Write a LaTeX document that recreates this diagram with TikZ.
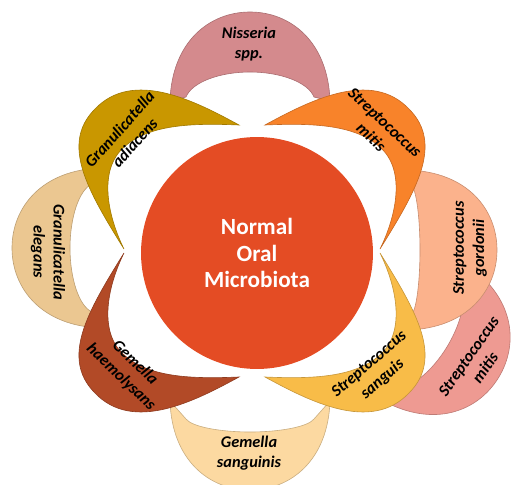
\documentclass[tikz,border=0pt]{standalone}
\usepackage{fontspec}
\setmainfont{Carlito}
\definecolor{kern}{HTML}{E44C24}
\definecolor{nissc}{HTML}{D48A8D}
\definecolor{goldc}{HTML}{C99700}
\definecolor{orngc}{HTML}{F8832A}
\definecolor{elegc}{HTML}{EBC791}
\definecolor{gordc}{HTML}{FBB28C}
\definecolor{mitic}{HTML}{EE9A92}
\definecolor{brwnc}{HTML}{B24A27}
\definecolor{yelwc}{HTML}{F8BC48}
\definecolor{sangc}{HTML}{FCD9A1}
\tikzset{
  leaf/.style={fill=#1,draw=#1!80!black,line width=0.35pt},
  lbl/.style={font=\fontsize{9.3}{11.5}\selectfont\bfseries\itshape,align=center,inner sep=0pt},
  core/.style={circle,fill=kern,minimum size=4.64cm,inner sep=0pt,text=white,
    font=\fontsize{13.2}{15.2}\selectfont\bfseries,align=center},
  pics/outerleaf/.style 2 args={code={
    \path[pic actions] (-80,150) .. controls (-78,210) and (-40,239) .. (0,239)
      .. controls (40,239) and (78,210) .. (80,150) -- (64,#2)
      .. controls (58,{#2+0.6*(#1-#2)}) and (30,#1) .. (0,#1)
      .. controls (-30,#1) and (-58,{#2+0.6*(#1-#2)}) .. (-64,#2) -- cycle;}},
  pics/innerleaf/.style={code={
    \path[pic actions] (-127,2) .. controls (-163,60) and (-191,107) .. (-156,142)
      .. controls (-118,182) and (-56,150) .. (-12,126)
      .. controls (-58,128) and (-104,127) .. (-129,102)
      .. controls (-154,77) and (-141,30) .. (-127,2) -- cycle;}},
}

\begin{document}
\begin{tikzpicture}[x=0.02cm,y=0.02cm]
  \clip (-251,-233) rectangle (260,251);
  % outer ring
  \pic[leaf=mitic,rotate=-121] at (43,-3) {outerleaf={179}{154}};
  \pic[leaf=nissc] at (-1,0) {outerleaf={179}{154}};
  \pic[leaf=elegc,rotate=90] at (0,3) {outerleaf={181}{159}};
  \pic[leaf=sangc,rotate=180] at (-1,0) {outerleaf={181}{168}};
  \pic[leaf=gordc,rotate=-90] at (7,1) {outerleaf={162}{154}};
  % inner ring
  \pic[leaf=goldc] {innerleaf};
  \pic[leaf=orngc,xscale=-1] at (2,0) {innerleaf};
  \pic[leaf=brwnc,yscale=-1] {innerleaf};
  \pic[leaf=yelwc,scale=-1] at (2,0) {innerleaf};
  \node[core] (micro) at (6,-2) {Normal\\Oral\\Microbiota};
  % labels
  \node[lbl] (nis) at (-2,207) {Nisseria\\spp.};
  \node[lbl,rotate=48] (gadi) at (-124,115) {Granulicatella\\adiacens};
  \node[lbl,rotate=-43] (smit) at (127,121) {Streptococcus\\mitis};
  \node[lbl,rotate=-90] (gele) at (-203,-1) {Granulicatella\\elegans};
  \node[lbl,rotate=90] (sgor) at (219,3) {Streptococcus\\gordonii};
  \node[lbl,rotate=55] (smit2) at (226,-111) {Streptococcus\\mitis};
  \node[lbl] (gsan) at (-2,-202) {Gemella\\sanguinis};
  \node[lbl,rotate=41] (ssan) at (125,-121) {Streptococcus\\sanguis};
  \node[lbl,rotate=-44] (ghae) at (-123,-119) {Gemella\\haemolysans};
\end{tikzpicture}
\end{document}
